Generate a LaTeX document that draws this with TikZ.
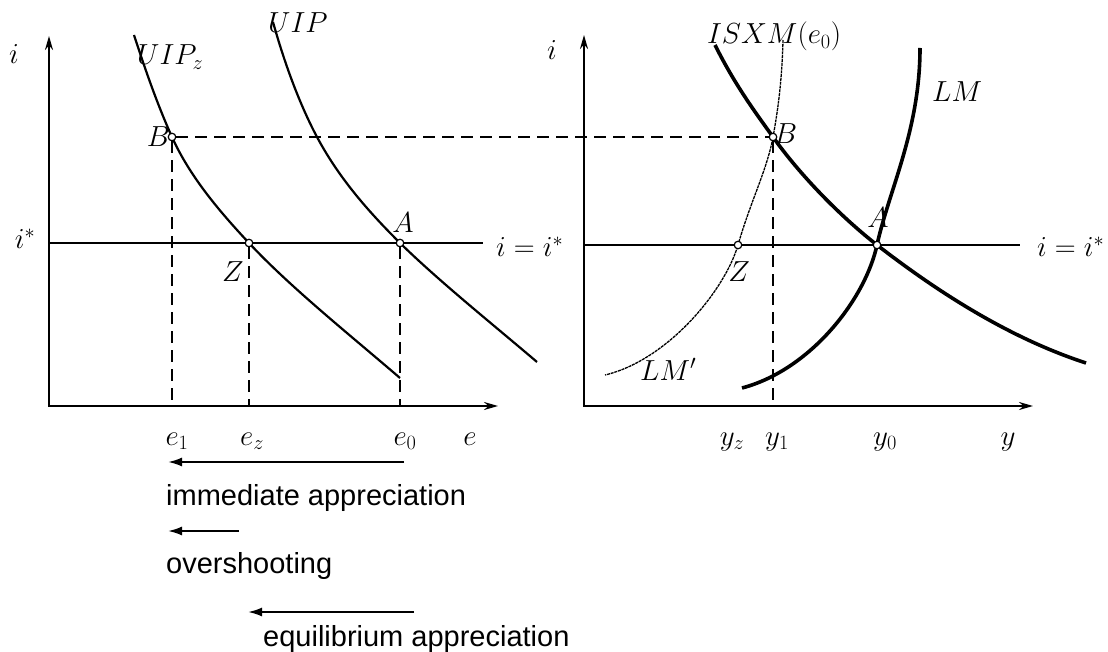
\RequirePackage{fix-cm}
\documentclass[tikz,border=0pt]{standalone}
\usepackage{fontspec}
\setsansfont{Liberation Sans}
\usetikzlibrary{arrows.meta}
\begin{document}
\begin{tikzpicture}[x=1pt,y=-1pt,
  every node/.style={font=\fontsize{29}{34}\selectfont, inner sep=0pt},
  axis/.style={line width=2pt},
  curve/.style={line width=2.2pt},
  heavycurve/.style={line width=3.6pt},
  lightcurve/.style={line width=1.3pt, dash pattern=on 3pt off 0.8pt},
  guide/.style={line width=1.6pt, dash pattern=on 12pt off 7pt},
  pt/.style={circle, draw, fill=white, line width=1.2pt, minimum size=7.5pt, inner sep=0pt},
  shiftarrow/.style={line width=2pt, -{Latex[length=14pt,width=9pt]}},
  txt/.style={font=\sffamily\fontsize{29}{34}\selectfont, anchor=base west}
]
\useasboundingbox (0,0) rectangle (1108,652);

% ---------- left panel ----------
\coordinate (oL) at (49,406);
\coordinate (yL) at (49,36);
\coordinate (xL) at (498,406);
\draw[axis, {Stealth[length=14pt,width=8pt]}-{Stealth[length=14pt,width=8pt]}] (yL) -- (oL) -- (xL);
\coordinate (hL0) at (49,243);
\coordinate (hL1) at (483,243);
\draw[curve] (hL0) -- (hL1);

\coordinate (cBl) at (172,137);
\coordinate (cZl) at (249,243);
\coordinate (cAl) at (400,243);

% UIP_z
\draw[curve] (134,35) .. controls (146,72) and (158,106) .. (cBl)
  .. controls (190,177) and (220,212) .. (cZl)
  .. controls (290,287) and (350,335) .. (400,378);
% UIP
\draw[curve] (273,22) .. controls (285,65) and (300,105) .. (317,137)
  .. controls (340,180) and (370,213) .. (cAl)
  .. controls (440,282) and (490,322) .. (537,362);

\node[anchor=base west] (uipz) at (137,65) {$UIP_z$};
\node[anchor=base west] (uip) at (268,33) {$UIP$};
\node (iL) at (14,54) {$i$};
\node (istarL) at (25,239) {$i^*$};
\node[anchor=base west] (eqL) at (496,257) {$i=i^*$};

% ---------- right panel ----------
\coordinate (oR) at (584,406);
\coordinate (yR) at (584,35);
\coordinate (xR) at (1033,406);
\draw[axis, {Stealth[length=14pt,width=8pt]}-{Stealth[length=14pt,width=8pt]}] (yR) -- (oR) -- (xR);
\coordinate (hR0) at (584,245);
\coordinate (hR1) at (1020,245);
\draw[curve] (hR0) -- (hR1);

\coordinate (cBr) at (773,137);
\coordinate (cZr) at (738,245);
\coordinate (cAr) at (877,245);

% LM'
\draw[lightcurve] (783,40) .. controls (782,80) and (778,110) .. (cBr)
  .. controls (767,170) and (751,200) .. (cZr)
  .. controls (725,290) and (668,360) .. (605,375);
% ISXM(e_0)
\draw[heavycurve] (715,45) .. controls (735,85) and (755,112) .. (cBr)
  .. controls (800,175) and (840,216) .. (cAr)
  .. controls (925,282) and (1000,335) .. (1086,363);
% LM
\draw[heavycurve] (742,388) .. controls (810,370) and (865,300) .. (cAr)
  .. controls (889,190) and (920,130) .. (920,48);

\node[anchor=base west] (isxm) at (707,44) {$ISXM(e_0)$};
\node[anchor=base west] (lm) at (932,102) {$LM$};
\node[anchor=base west] (lmp) at (640,380) {$LM'$};
\node (iR) at (552,50) {$i$};
\node[anchor=base west] (eqR) at (1037,257) {$i=i^*$};

% ---------- points ----------
\node[pt] (Bl) at (cBl) {};
\node[pt] (Zl) at (cZl) {};
\node[pt] (Al) at (cAl) {};
\node[pt] (Br) at (cBr) {};
\node[pt] (Zr) at (cZr) {};
\node[pt] (Ar) at (cAr) {};

\node[anchor=base east] (labBl) at (170,147) {$B$};
\node[anchor=base] (labZl) at (233,282) {$Z$};
\node[anchor=base] (labAl) at (403,233) {$A$};
\node[anchor=base west] (labBr) at (774,144) {$B$};
\node[anchor=base] (labZr) at (739,282) {$Z$};
\node[anchor=base] (labAr) at (878,228) {$A$};

% ---------- guides ----------
\draw[guide] (Bl) -- (Br);
\draw[guide] (Bl) -- (Bl |- oL);
\draw[guide] (Zl) -- (Zl |- oL);
\draw[guide] (Al) -- (Al |- oL);
\draw[guide] (Br) -- (Br |- oR);

% ---------- axis labels ----------
\node[anchor=base] (e1) at (177,445) {$e_1$};
\node[anchor=base] (ez) at (252,445) {$e_z$};
\node[anchor=base] (e0) at (405,445) {$e_0$};
\node[anchor=base] (e) at (470,445) {$e$};
\node[anchor=base] (yz) at (732,445) {$y_z$};
\node[anchor=base] (y1) at (777,445) {$y_1$};
\node[anchor=base] (y0) at (885,445) {$y_0$};
\node[anchor=base] (y) at (1008,445) {$y$};

% ---------- movement arrows ----------
\coordinate (a1s) at (404,462);
\coordinate (a1e) at (168,462);
\coordinate (a2s) at (239,531);
\coordinate (a2e) at (168,531);
\coordinate (a3s) at (414,612);
\coordinate (a3e) at (248,612);
\draw[shiftarrow] (a1s) -- (a1e);
\draw[shiftarrow] (a2s) -- (a2e);
\draw[shiftarrow] (a3s) -- (a3e);
\node[txt] (t1) at (166,505) {immediate appreciation};
\node[txt] (t2) at (166,573) {overshooting};
\node[txt] (t3) at (263,646) {equilibrium appreciation};
\end{tikzpicture}
\end{document}
